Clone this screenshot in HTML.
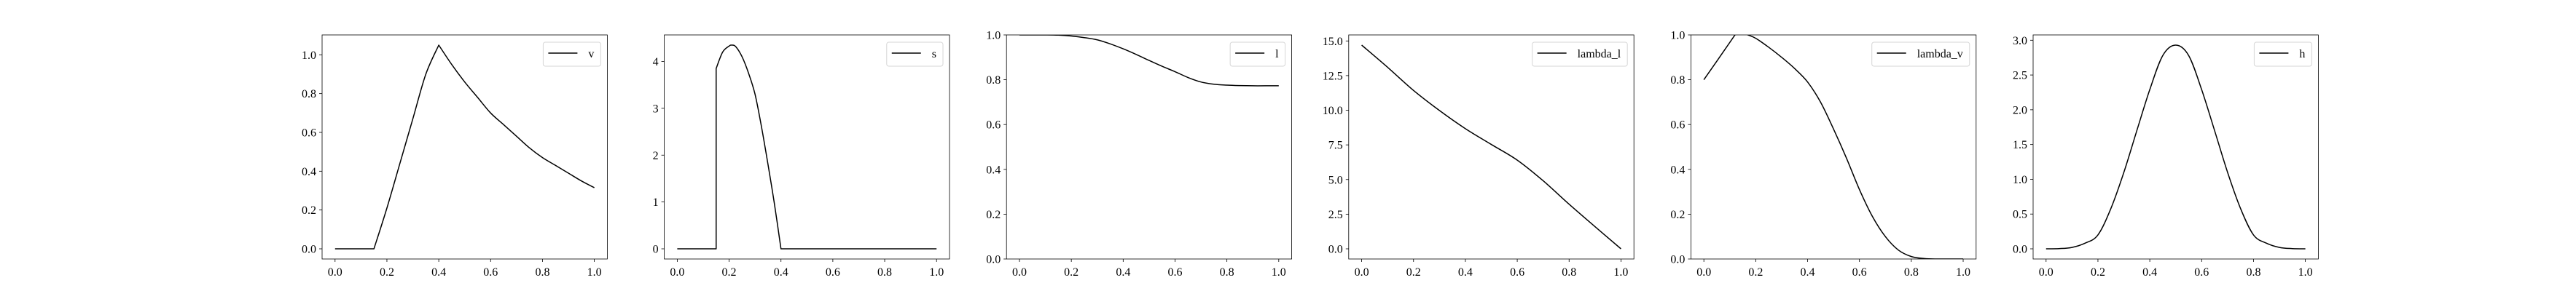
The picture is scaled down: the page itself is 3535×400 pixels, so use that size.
<!DOCTYPE html>
<html><head><meta charset="utf-8"><style>
html,body{margin:0;padding:0;background:#fff;}
svg{display:block;font-family:"Liberation Serif","DejaVu Serif",serif;}
</style></head><body>
<svg id="fig" width="3535" height="400" viewBox="0 0 3535 400" xmlns="http://www.w3.org/2000/svg"></svg>
<script>
// ---- data ----
const vX = [0,0.05,0.1,0.15,0.2,0.25,0.3,0.35,0.4,0.45,0.5,0.55,0.6,0.65,0.7,0.75,0.8,0.85,0.9,0.95,1];
const vY = [0,0,0,0,0.21,0.44,0.67,0.9,1.05,0.95,0.86,0.78,0.70,0.64,0.58,0.52,0.47,0.43,0.39,0.35,0.315];
const sX = [0,0.15,0.15,0.175,0.2,0.21,0.225,0.25,0.275,0.3,0.325,0.35,0.375,0.4,1];
const sY = [0,0,3.85,4.2,4.33,4.35,4.32,4.1,3.75,3.3,2.6,1.8,0.95,0,0];
const lX = [0,0.05,0.1,0.15,0.2,0.25,0.3,0.35,0.4,0.45,0.5,0.55,0.6,0.65,0.7,0.75,0.8,0.85,0.9,0.95,1];
const lY = [1,1,1,0.999,0.995,0.988,0.978,0.96,0.938,0.913,0.886,0.86,0.836,0.81,0.79,0.78,0.776,0.774,0.773,0.773,0.773];
const llX = [0,0.1,0.2,0.3,0.4,0.5,0.6,0.7,0.8,0.9,1];
const llY = [14.7,13.1,11.43,9.98,8.67,7.53,6.4,4.91,3.22,1.6,0];
const lvX = [0,0.05,0.12,0.145,0.17,0.2,0.25,0.3,0.35,0.4,0.45,0.5,0.55,0.6,0.65,0.7,0.75,0.8,0.85,0.9,1];
const lvY = [0.8,0.883,1.0,1.01,1.0,0.985,0.945,0.9,0.85,0.79,0.70,0.58,0.45,0.31,0.19,0.10,0.04,0.011,0.002,0,0];
const hX = [0,0.05,0.1,0.15,0.2,0.25,0.3,0.35,0.4,0.45,0.5,0.55,0.6,0.65,0.7,0.75,0.8,0.85,0.9,0.95,1];
const hY = [0,0.003,0.02,0.08,0.2,0.58,1.1,1.7,2.29,2.78,2.93,2.78,2.29,1.7,1.1,0.58,0.2,0.08,0.02,0.003,0];
const xTicks = [0,0.2,0.4,0.6,0.8,1.0];
const xTickLabels = ["0.0","0.2","0.4","0.6","0.8","1.0"];
const panels = [
 {name:"v", x:vX, y:vY, corners:[3,8], ylim:[-0.0525,1.1025], yt:[0,0.2,0.4,0.6,0.8,1.0], ytl:["0.0","0.2","0.4","0.6","0.8","1.0"]},
 {name:"s", x:sX, y:sY, corners:[1,2,13], ylim:[-0.2175,4.5675], yt:[0,1,2,3,4], ytl:["0","1","2","3","4"]},
 {name:"l", x:lX, y:lY, corners:[], ylim:[0,1], yt:[0,0.2,0.4,0.6,0.8,1.0], ytl:["0.0","0.2","0.4","0.6","0.8","1.0"]},
 {name:"lambda_l", x:llX, y:llY, corners:[], ylim:[-0.735,15.435], yt:[0,2.5,5,7.5,10,12.5,15], ytl:["0.0","2.5","5.0","7.5","10.0","12.5","15.0"]},
 {name:"lambda_v", x:lvX, y:lvY, corners:[2], ylim:[0,1], yt:[0,0.2,0.4,0.6,0.8,1.0], ytl:["0.0","0.2","0.4","0.6","0.8","1.0"]},
 {name:"h", x:hX, y:hY, corners:[], ylim:[-0.1465,3.0765], yt:[0,0.5,1,1.5,2,2.5,3], ytl:["0.0","0.5","1.0","1.5","2.0","2.5","3.0"]}
];
// ---- drawing ----
const NS="http://www.w3.org/2000/svg";
const fig=document.getElementById('fig');
function mk(tag,attrs,parent){const e=document.createElementNS(NS,tag);for(const k in attrs)e.setAttribute(k,attrs[k]);(parent||fig).appendChild(e);return e;}
function smoothPath(pts,corners){
  // split into runs at corners, Catmull-Rom within each run
  const cuts=[0,...corners.filter(c=>c>0&&c<pts.length-1),pts.length-1];
  let d='M'+pts[0][0].toFixed(2)+','+pts[0][1].toFixed(2);
  for(let r=0;r<cuts.length-1;r++){
    const a=cuts[r], b=cuts[r+1];
    for(let i=a;i<b;i++){
      const p0=pts[i>a?i-1:i], p1=pts[i], p2=pts[i+1], p3=pts[i+1<b?i+2:i+1];
      const c1=[p1[0]+(p2[0]-p0[0])/6, p1[1]+(p2[1]-p0[1])/6];
      const c2=[p2[0]-(p3[0]-p1[0])/6, p2[1]-(p3[1]-p1[1])/6];
      d+='C'+c1[0].toFixed(2)+','+c1[1].toFixed(2)+' '+c2[0].toFixed(2)+','+c2[1].toFixed(2)+' '+p2[0].toFixed(2)+','+p2[1].toFixed(2);
    }
  }
  return d;
}
const AX_L=442, AX_W=391.4, AX_STEP=469.6, AX_T=48, AX_B=356;
panels.forEach((p,i)=>{
  const L=AX_L+AX_STEP*i, R=L+AX_W;
  const sx=v=>L+(v+0.05)/1.1*AX_W;
  const sy=v=>AX_B-(v-p.ylim[0])/(p.ylim[1]-p.ylim[0])*(AX_B-AX_T);
  const g=mk('g',{});
  
  
  const cp=mk('clipPath',{id:'cp'+i},g);
  mk('rect',{x:L,y:AX_T,width:AX_W,height:AX_B-AX_T},cp);
  const pts=p.x.map((xv,j)=>[sx(xv),sy(p.y[j])]);
  const ln=mk('path',{d:smoothPath(pts,p.corners),fill:'none',stroke:'#000','stroke-width':1.5,'stroke-linejoin':'round','clip-path':'url(#cp'+i+')'},g);
  
  
  const fr=mk('rect',{x:L,y:AX_T,width:AX_W,height:AX_B-AX_T,fill:'none',stroke:'#000','stroke-width':0.8},g);
  
  
  xTicks.forEach((t,k)=>{
    const X=sx(t);
    mk('line',{x1:X,y1:AX_B,x2:X,y2:AX_B+4,stroke:'#000','stroke-width':0.8},g);
    const tx=mk('text',{x:X,y:379,'text-anchor':'middle','font-size':16,fill:'#000'},g);
    tx.textContent=xTickLabels[k];
    
    
  });
  p.yt.forEach((t,k)=>{
    const Y=sy(t);
    mk('line',{x1:L-4,y1:Y,x2:L,y2:Y,stroke:'#000','stroke-width':0.8},g);
    const tx=mk('text',{x:L-8,y:Y+5.5,'text-anchor':'end','font-size':16,fill:'#000'},g);
    tx.textContent=p.ytl[k];
    
    
  });
  const lg=mk('g',{},g);
  
  
  const box=mk('rect',{y:58,height:33,rx:3,fill:'#fff',stroke:'#d6d6d6','stroke-width':1},lg);
  const lt=mk('text',{y:79,'font-size':16,fill:'#000'},lg);
  lt.textContent=p.name;
  
  
  const tw=lt.getComputedTextLength();
  const bw=tw+62+9, bl=R-9-bw;
  box.setAttribute('x',bl);box.setAttribute('width',bw);
  lt.setAttribute('x',bl+62);
  const ll=mk('line',{x1:bl+7,x2:bl+47,y1:73,y2:73,stroke:'#000','stroke-width':1.5},lg);
  
  
});
</script>
</body></html>
